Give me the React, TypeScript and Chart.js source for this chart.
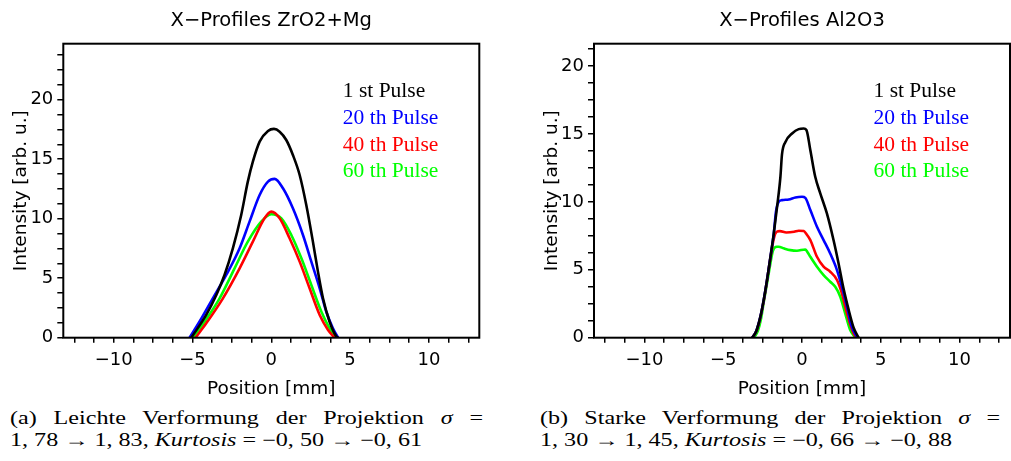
import React, { useEffect, useRef } from 'react';
import { Chart, registerables } from 'chart.js';

Chart.register(...registerables);

// ---------- data ----------
const seriesLabels = ['1 st Pulse', '20 th Pulse', '40 th Pulse', '60 th Pulse'];
const seriesColors = ['#000000', '#0000ff', '#ff0000', '#00ff00'];

const xTickValues = [-12.5, -11.25, -10, -8.75, -7.5, -6.25, -5, -3.75, -2.5, -1.25, 0, 1.25, 2.5, 3.75, 5, 6.25, 7.5, 8.75, 10, 11.25, 12.5];
const yTicksZr = [0, 1.25, 2.5, 3.75, 5, 6.25, 7.5, 8.75, 10, 11.25, 12.5, 13.75, 15, 16.25, 17.5, 18.75, 20, 21.25, 22.5, 23.75];
const yTicksAl = [0, 1.25, 2.5, 3.75, 5, 6.25, 7.5, 8.75, 10, 11.25, 12.5, 13.75, 15, 16.25, 17.5, 18.75, 20, 21.25];

// ZrO2+Mg profiles
const zr1X = [-5.08, -4.13, -3.49, -2.97, -2.44, -1.91, -1.49, -1.17, -0.74, -0.21, 0.17, 0.53, 0.95, 1.37, 1.8, 2.22, 2.64, 2.96, 3.28, 3.7, 4.13, 4.24];
const zr1Y = [0, 1.91, 3.59, 5.27, 7.51, 10.31, 13.11, 14.79, 16.47, 17.37, 17.54, 17.31, 16.61, 15.35, 13.67, 11.15, 8.07, 5.55, 3.31, 1.34, 0.1, 0];
const zr20X = [-5.19, -4.56, -3.71, -2.86, -2.01, -1.38, -0.74, -0.21, 0.21, 0.74, 1.37, 2.01, 2.54, 3.07, 3.49, 3.91, 4.24];
const zr20Y = [0, 1.34, 3.31, 5.27, 7.51, 9.75, 11.99, 13.11, 13.34, 12.55, 10.87, 8.63, 6.39, 4.15, 2.18, 0.79, 0];
const zr40X = [-4.81, -4.13, -3.07, -2.01, -1.17, -0.43, 0.0, 0.53, 1.16, 1.8, 2.43, 3.07, 3.6, 4.02];
const zr40Y = [0, 1.21, 3.31, 5.83, 8.07, 10.03, 10.59, 10.03, 8.35, 6.39, 4.15, 1.91, 0.65, 0];
const zr60X = [-4.98, -4.24, -3.28, -2.33, -1.49, -0.64, 0.0, 0.64, 1.27, 1.91, 2.54, 3.18, 3.7, 4.13];
const zr60Y = [0, 1.34, 3.31, 5.83, 8.07, 9.75, 10.37, 10.03, 8.63, 6.67, 4.43, 2.18, 0.79, 0];

// Al2O3 profiles
const al1X = [-3.16, -2.9, -2.64, -2.43, -2.22, -2.0, -1.79, -1.58, -1.37, -1.27, -1.06, -0.63, -0.21, 0.11, 0.28, 0.53, 0.84, 1.16, 1.58, 2.0, 2.32, 2.64, 2.95, 3.27, 3.59];
const al1Y = [0, 0.5, 1.55, 2.78, 4.25, 5.96, 7.68, 9.65, 11.85, 13.5, 14.4, 15.04, 15.36, 15.4, 15.3, 13.8, 11.85, 10.63, 9.15, 7.19, 5.47, 3.6, 2.1, 0.75, 0];
const al20X = [-3.16, -2.9, -2.64, -2.43, -2.22, -2.0, -1.79, -1.65, -1.48, -1.27, -0.84, -0.42, 0.0, 0.21, 0.53, 0.95, 1.37, 1.79, 2.22, 2.53, 2.85, 3.16, 3.5];
const al20Y = [0, 0.5, 1.55, 2.78, 4.25, 5.96, 7.68, 9.3, 10.0, 10.13, 10.18, 10.33, 10.38, 10.3, 9.4, 8.17, 7.19, 6.2, 4.98, 3.75, 2.28, 0.81, 0];
const al40X = [-3.16, -2.9, -2.64, -2.43, -2.22, -2.0, -1.79, -1.6, -1.4, -1.0, -0.5, -0.21, 0.11, 0.3, 0.53, 0.95, 1.37, 1.79, 2.22, 2.53, 2.85, 3.27, 3.48];
const al40Y = [0, 0.45, 1.5, 2.7, 4.2, 5.9, 7.3, 7.8, 7.85, 7.75, 7.8, 7.88, 7.85, 7.6, 7.19, 5.96, 5.23, 4.86, 4.25, 3.26, 1.79, 0.32, 0];
const al60X = [-3.05, -2.8, -2.6, -2.43, -2.22, -2.0, -1.85, -1.6, -1.48, -1.16, -0.74, -0.32, 0.21, 0.35, 0.53, 0.95, 1.37, 1.79, 2.11, 2.43, 2.74, 3.06, 3.38];
const al60Y = [0, 0.5, 1.4, 2.6, 4.0, 5.5, 6.4, 6.7, 6.7, 6.58, 6.45, 6.4, 6.5, 6.3, 5.96, 5.23, 4.61, 4.12, 3.75, 3.02, 1.79, 0.56, 0];

const zrSeries = [[zr1X, zr1Y], [zr20X, zr20Y], [zr40X, zr40Y], [zr60X, zr60Y]];
const alSeries = [[al1X, al1Y], [al20X, al20Y], [al40X, al40Y], [al60X, al60Y]];

// ---------- plugins ----------
const frameAndLegend = {
  id: 'frameAndLegend',
  afterDatasetsDraw(chart: any) {
    const { ctx, chartArea } = chart;
    ctx.save();
    ctx.strokeStyle = '#000';
    ctx.lineWidth = 2;
    ctx.strokeRect(chartArea.left, chartArea.top, chartArea.right - chartArea.left, chartArea.bottom - chartArea.top);
    ctx.font = '21.5px "Liberation Serif", serif';
    ctx.textBaseline = 'alphabetic';
    ctx.textAlign = 'left';
    chart.data.datasets.forEach((ds: any, i: number) => {
      ctx.fillStyle = ds.borderColor;
      ctx.fillText(ds.label, chartArea.left + 279.5, chartArea.top + 53 + i * 26.9);
    });
    ctx.restore();
  },
};

const fmtTick = (v: number) => {
  if (Math.abs(v % 5) > 1e-9) return '';
  if (v < 0) return '\u2212' + Math.abs(v);
  return String(v);
};

type Props = {
  title: string;
  series: number[][][];
  yMax: number;
  yTicks: number[];
  left: number;
  width: number;
  yAxisWidth: number;
  yTitlePad: number;
};

const H = 402;

function ProfileChart({ title, series, yMax, yTicks, left, width, yAxisWidth, yTitlePad }: Props) {
  const ref = useRef<HTMLCanvasElement>(null);
  useEffect(() => {
    const chart = new Chart(ref.current as HTMLCanvasElement, {
      type: 'line',
      data: {
        datasets: series.map(([xs, ys], i) => ({
          label: seriesLabels[i],
          data: xs.map((x, k) => ({ x, y: ys[k] })),
          borderColor: seriesColors[i],
          backgroundColor: seriesColors[i],
          borderWidth: 2.6,
          pointRadius: 0,
          fill: false,
          cubicInterpolationMode: 'monotone',
        })),
      },
      options: {
        animation: false,
        responsive: false,
        devicePixelRatio: 1,
        layout: { padding: { left: 0, right: width - yAxisWidth - 416, top: 0, bottom: 0 } },
        plugins: {
          legend: { display: false },
          tooltip: { enabled: false },
          title: {
            display: true,
            text: title,
            fullSize: false,
            color: '#000',
            font: { family: '"DejaVu Sans", sans-serif', size: 19.5, weight: 'normal' },
            padding: { top: 9.3, bottom: 11 },
          },
        },
        scales: {
          x: {
            type: 'linear',
            min: -13.2,
            max: 13.2,
            afterBuildTicks: (s: any) => { s.ticks = xTickValues.map((v) => ({ value: v })); },
            afterFit: (s: any) => { s.height = H - 337.7; },
            ticks: {
              autoSkip: false,
              maxRotation: 0,
              color: '#000',
              padding: 6.5,
              font: { family: '"DejaVu Sans", sans-serif', size: 18 },
              callback: (v: any) => fmtTick(Number(v)),
            },
            grid: { drawOnChartArea: false, color: '#000', lineWidth: 1.5, tickLength: 5 },
            border: { display: false },
            title: {
              display: true,
              text: 'Position [mm]',
              color: '#000',
              font: { family: '"DejaVu Sans", sans-serif', size: 18.5 },
              padding: { top: 0, bottom: 1.5 },
            },
          },
          y: {
            type: 'linear',
            min: 0,
            max: yMax,
            afterBuildTicks: (s: any) => { s.ticks = yTicks.map((v) => ({ value: v })); },
            afterFit: (s: any) => { s.width = yAxisWidth; },
            ticks: {
              autoSkip: false,
              color: '#000',
              padding: 4,
              font: { family: '"DejaVu Sans", sans-serif', size: 18 },
              callback: (v: any) => fmtTick(Number(v)),
            },
            grid: { drawOnChartArea: false, color: '#000', lineWidth: 1.5, tickLength: 6 },
            border: { display: false },
            title: {
              display: true,
              text: 'Intensity [arb. u.]',
              color: '#000',
              font: { family: '"DejaVu Sans", sans-serif', size: 18.5 },
              padding: { top: yTitlePad, bottom: 0 },
            },
          },
        },
      },
      plugins: [frameAndLegend],
    } as any);
    return () => chart.destroy();
  }, []);
  return (
    <canvas
      ref={ref}
      width={width}
      height={H}
      style={{ position: 'absolute', left, top: 0, width, height: H }}
    />
  );
}

const capScale = 1.34;
const capBase: React.CSSProperties = {
  position: 'absolute',
  fontFamily: '"Liberation Serif", serif',
  fontSize: 18,
  lineHeight: '22.4px',
  color: '#000',
  transformOrigin: '0 0',
  transform: `scaleX(${capScale})`,
  whiteSpace: 'nowrap',
};

export default function App() {
  return (
    <div style={{ position: 'fixed', left: 0, top: 0, width: 1011, height: 461, background: '#fff', overflow: 'hidden' }}>
      <ProfileChart title={'X\u2212Profiles ZrO2+Mg'} series={zrSeries} yMax={24.7} yTicks={yTicksZr} left={0} width={500} yAxisWidth={63.3} yTitlePad={10} />
      <ProfileChart title={'X\u2212Profiles Al2O3'} series={alSeries} yMax={21.65} yTicks={yTicksAl} left={520} width={491} yAxisWidth={74} yTitlePad={20.6} />
      <div style={{ ...capBase, left: 10, top: 407, width: 473 / capScale, textAlign: 'justify', textAlignLast: 'justify' as any, whiteSpace: 'normal' }}>
        (a) Leichte Verformung der Projektion <i>σ</i> =
      </div>
      <div style={{ ...capBase, left: 10, top: 429.4 }}>
        1, 78 → 1, 83, <i>Kurtosis</i> = −0, 50 → −0, 61
      </div>
      <div style={{ ...capBase, left: 540, top: 407, width: 460 / capScale, textAlign: 'justify', textAlignLast: 'justify' as any, whiteSpace: 'normal' }}>
        (b) Starke Verformung der Projektion <i>σ</i> =
      </div>
      <div style={{ ...capBase, left: 540, top: 429.4 }}>
        1, 30 → 1, 45, <i>Kurtosis</i> = −0, 66 → −0, 88
      </div>
    </div>
  );
}
